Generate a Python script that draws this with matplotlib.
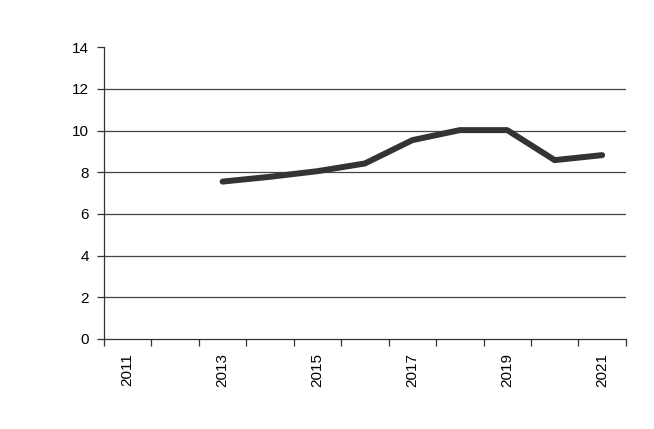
import matplotlib
matplotlib.use("Agg")
import matplotlib.pyplot as plt
import numpy as np

plt.rcParams['font.family'] = ['Liberation Sans', 'DejaVu Sans']

years = list(range(2011, 2022))
values = [np.nan, np.nan, 7.55, 7.78, 8.05, 8.42, 9.54, 10.02, 10.02, 8.58, 8.82]
tick_labels = [str(y) if (y - 2011) % 2 == 0 else '' for y in years]

fig = plt.figure(figsize=(6.54, 4.29), dpi=100)
ax = fig.add_axes([0.159, 0.21, 0.798, 0.68])

x = np.arange(len(years))
ax.plot(x, values, color='#333333', lw=4.3, solid_capstyle='round', solid_joinstyle='round', zorder=3)

ax.set_xlim(-0.5, len(years) - 0.5)
ax.set_ylim(0, 14)
ax.set_yticks(np.arange(0, 15, 2))
# horizontal grid, none at the top
for yv in range(2, 14, 2):
    ax.axhline(yv, color='#444444', lw=0.9, zorder=1)

ax.set_xticks(x)
ax.set_xticklabels(tick_labels, rotation=90)
ax.set_xticks(np.arange(-0.5, len(years)), minor=True)
ax.tick_params(axis='x', which='major', length=0, pad=10, labelsize=11)
ax.tick_params(axis='x', which='minor', length=5, width=0.9, color='#333333')
ax.tick_params(axis='y', length=5, width=0.9, color='#333333', labelsize=11, pad=6)

for s in ['top', 'right']:
    ax.spines[s].set_visible(False)
for s in ['left', 'bottom']:
    ax.spines[s].set_color('#333333')
    ax.spines[s].set_linewidth(0.9)

fig.savefig('out.png', dpi=100)
